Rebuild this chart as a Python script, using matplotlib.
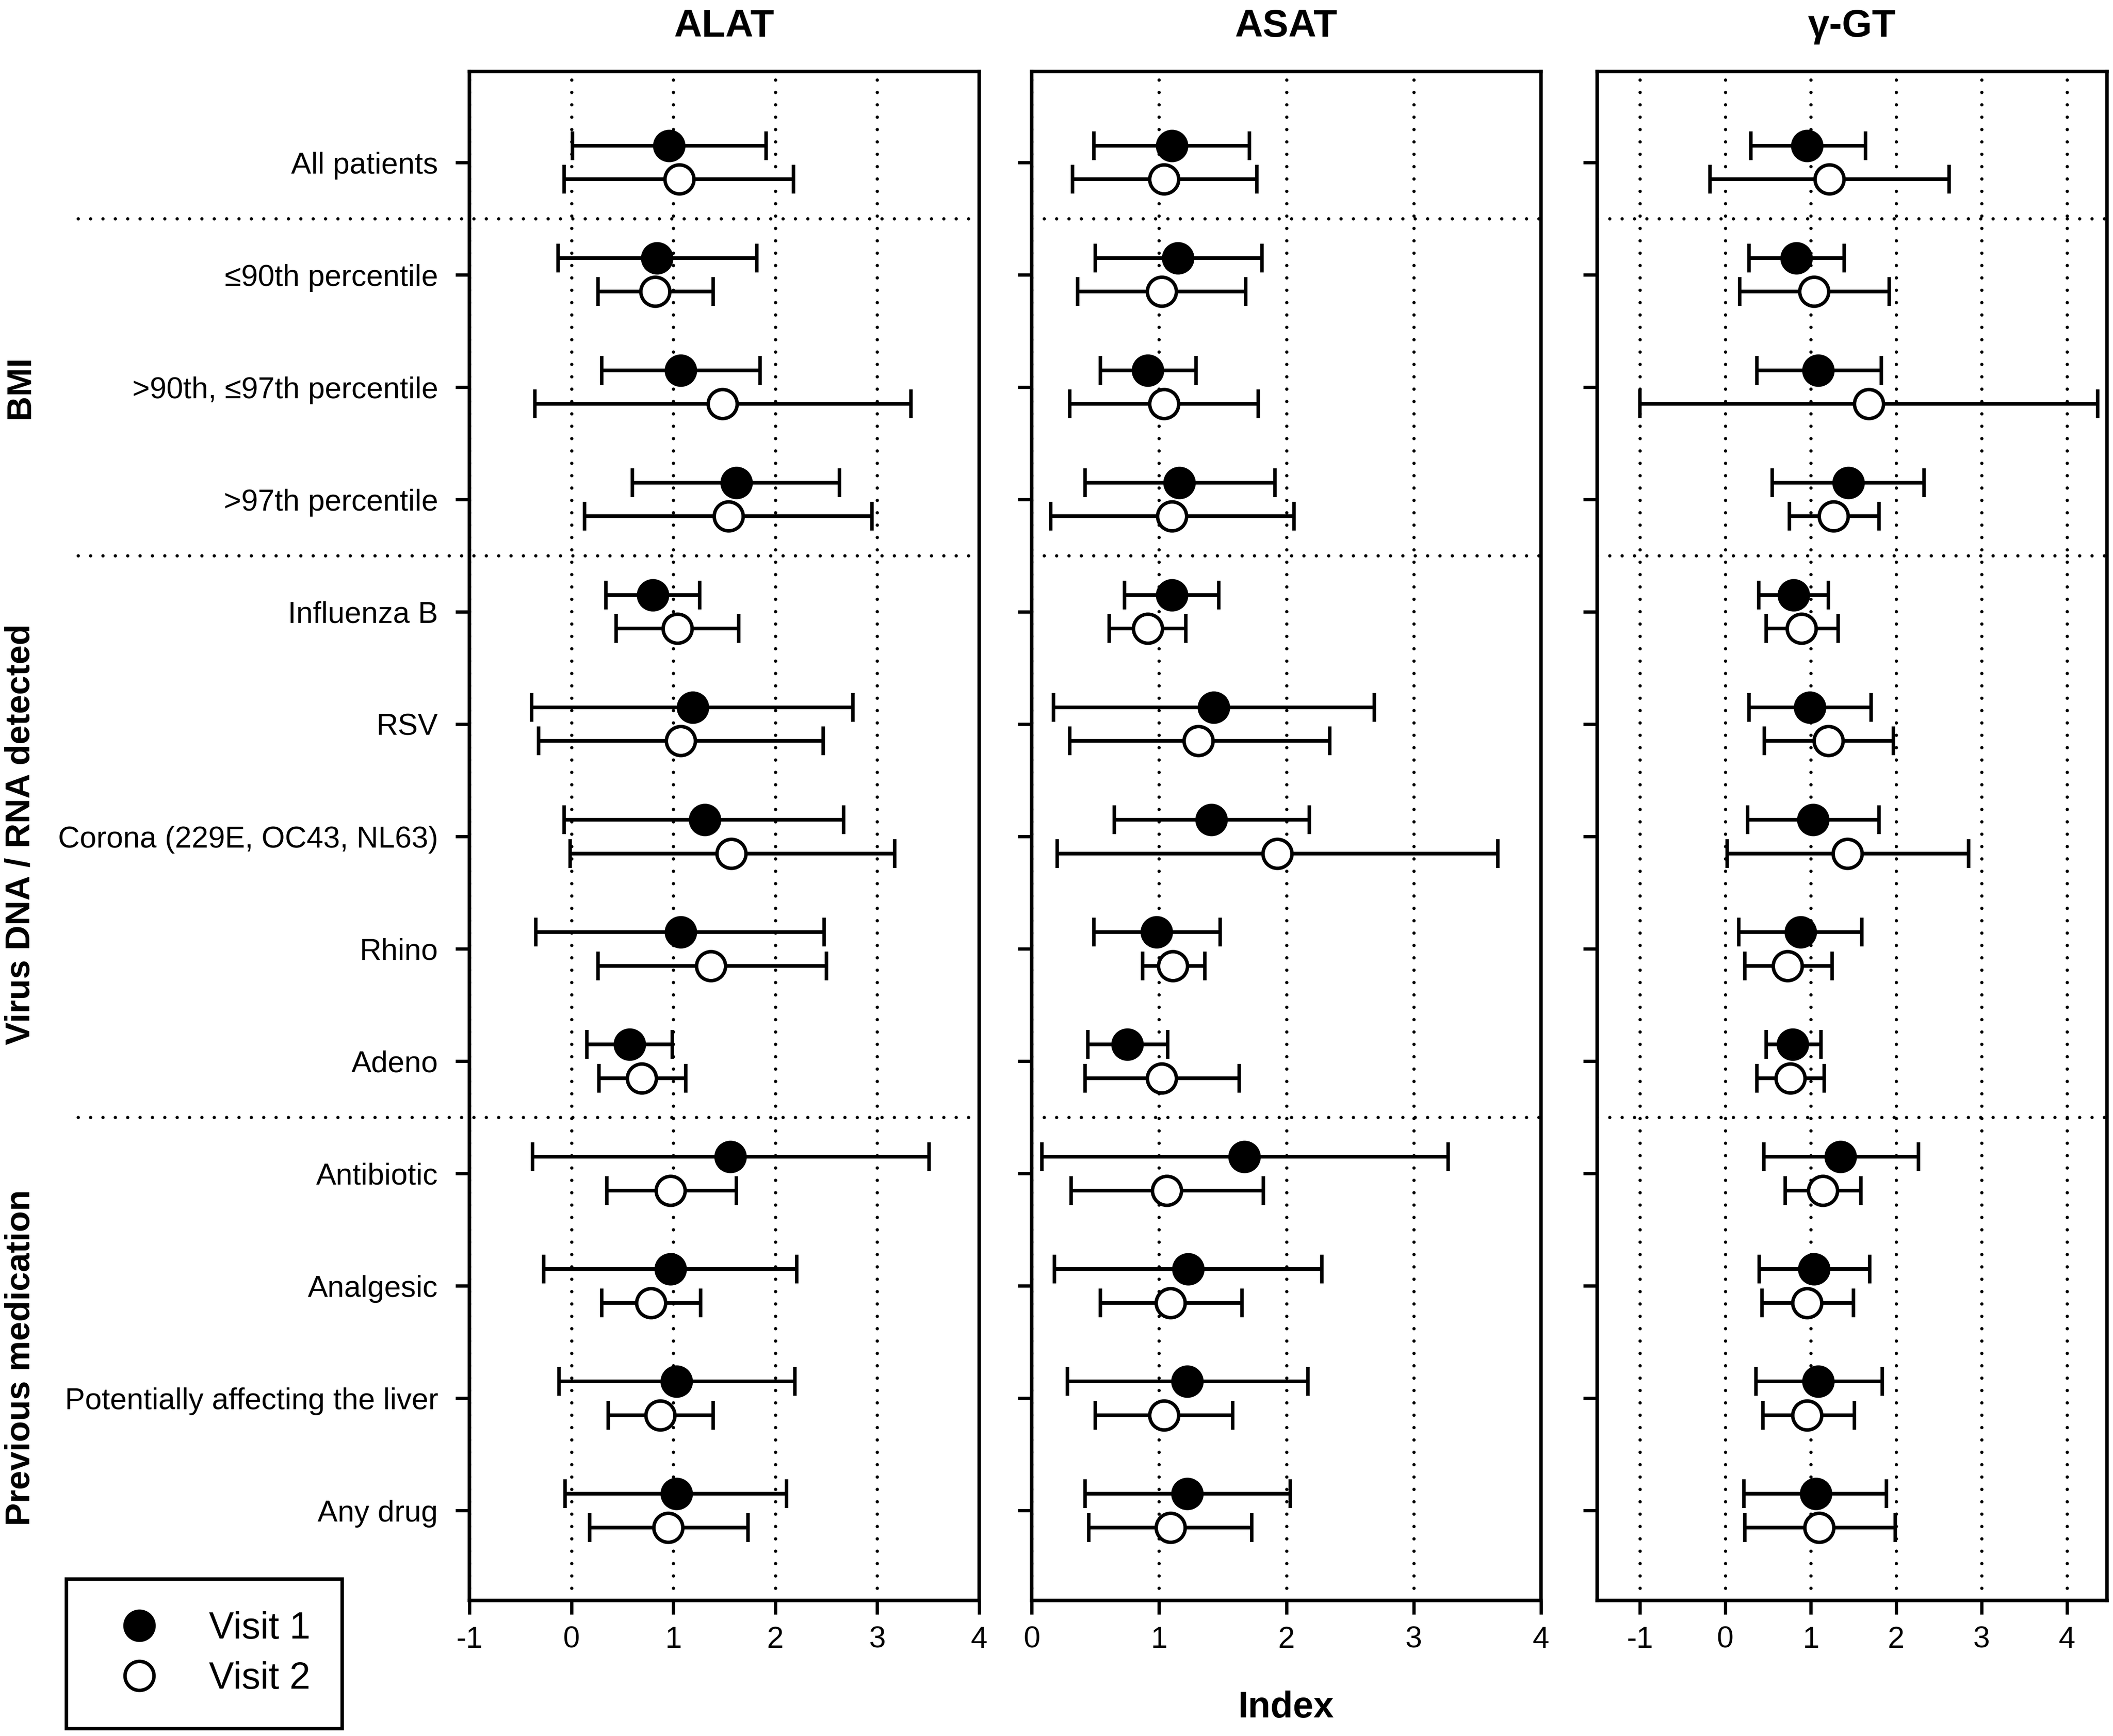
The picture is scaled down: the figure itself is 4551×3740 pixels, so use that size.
import matplotlib
matplotlib.use("Agg")
import matplotlib.pyplot as plt
import matplotlib.transforms as mtransforms
from matplotlib import font_manager
from matplotlib.lines import Line2D
import numpy as np

# rows, top to bottom
rows = ['All patients', '\u226490th percentile', '>90th, \u226497th percentile',
        '>97th percentile', 'Influenza B', 'RSV', 'Corona (229E, OC43, NL63)',
        'Rhino', 'Adeno', 'Antibiotic', 'Analgesic',
        'Potentially affecting the liver', 'Any drug']
groups = ['BMI', 'Virus DNA / RNA detected', 'Previous medication']
group_centre = [2, 5.98, 10.64]
separators = [0.5, 3.5, 8.5]

# ALAT
alat_v1_mean = [0.96, 0.84, 1.07, 1.62, 0.80, 1.19, 1.31, 1.07, 0.57, 1.56, 0.97, 1.03, 1.03]
alat_v1_lo = [0.01, -0.13, 0.30, 0.60, 0.34, -0.39, -0.07, -0.35, 0.15, -0.38, -0.27, -0.12, -0.06]
alat_v1_hi = [1.91, 1.82, 1.85, 2.63, 1.26, 2.76, 2.67, 2.48, 0.99, 3.51, 2.21, 2.19, 2.11]
alat_v2_mean = [1.06, 0.82, 1.48, 1.54, 1.04, 1.07, 1.57, 1.37, 0.69, 0.97, 0.78, 0.87, 0.95]
alat_v2_lo = [-0.07, 0.26, -0.36, 0.13, 0.44, -0.32, -0.01, 0.26, 0.27, 0.35, 0.30, 0.36, 0.18]
alat_v2_hi = [2.18, 1.39, 3.33, 2.95, 1.64, 2.47, 3.17, 2.50, 1.12, 1.62, 1.27, 1.39, 1.73]

# ASAT
asat_v1_mean = [1.10, 1.15, 0.91, 1.16, 1.10, 1.43, 1.41, 0.98, 0.75, 1.67, 1.23, 1.22, 1.22]
asat_v1_lo = [0.49, 0.50, 0.54, 0.42, 0.73, 0.17, 0.65, 0.49, 0.44, 0.08, 0.18, 0.28, 0.42]
asat_v1_hi = [1.71, 1.81, 1.29, 1.91, 1.47, 2.69, 2.18, 1.48, 1.07, 3.27, 2.28, 2.17, 2.03]
asat_v2_mean = [1.04, 1.02, 1.04, 1.10, 0.91, 1.31, 1.93, 1.11, 1.02, 1.06, 1.09, 1.04, 1.09]
asat_v2_lo = [0.32, 0.36, 0.30, 0.15, 0.61, 0.30, 0.20, 0.87, 0.42, 0.31, 0.54, 0.50, 0.45]
asat_v2_hi = [1.77, 1.68, 1.78, 2.06, 1.21, 2.34, 3.66, 1.36, 1.63, 1.82, 1.65, 1.58, 1.73]

# gamma-GT
ggt_v1_mean = [0.96, 0.83, 1.09, 1.44, 0.80, 0.99, 1.03, 0.88, 0.79, 1.35, 1.04, 1.09, 1.06]
ggt_v1_lo = [0.30, 0.28, 0.37, 0.55, 0.39, 0.28, 0.26, 0.16, 0.48, 0.45, 0.40, 0.36, 0.22]
ggt_v1_hi = [1.64, 1.39, 1.83, 2.33, 1.21, 1.71, 1.80, 1.60, 1.12, 2.26, 1.69, 1.84, 1.89]
ggt_v2_mean = [1.22, 1.04, 1.68, 1.27, 0.89, 1.21, 1.43, 0.73, 0.76, 1.14, 0.96, 0.96, 1.10]
ggt_v2_lo = [-0.18, 0.17, -1.00, 0.75, 0.48, 0.46, 0.02, 0.23, 0.37, 0.70, 0.43, 0.44, 0.23]
ggt_v2_hi = [2.62, 1.92, 4.36, 1.80, 1.32, 1.97, 2.85, 1.25, 1.16, 1.59, 1.50, 1.51, 1.99]

titles = ['ALAT', 'ASAT', '\u03b3-GT']
xlims = [(-1, 4), (0, 4), (-1.5, 4.47)]
xticks = [[-1, 0, 1, 2, 3, 4], [0, 1, 2, 3, 4], [-1, 0, 1, 2, 3, 4]]

panels = [
    (alat_v1_mean, alat_v1_lo, alat_v1_hi, alat_v2_mean, alat_v2_lo, alat_v2_hi),
    (asat_v1_mean, asat_v1_lo, asat_v1_hi, asat_v2_mean, asat_v2_lo, asat_v2_hi),
    (ggt_v1_mean, ggt_v1_lo, ggt_v1_hi, ggt_v2_mean, ggt_v2_lo, ggt_v2_hi),
]

names = {f.name for f in font_manager.fontManager.ttflist}
if 'Liberation Sans Narrow' in names:
    nfam = ['Liberation Sans Narrow', 'DejaVu Sans']
    fs = 18
else:
    nfam = ['Liberation Sans', 'DejaVu Sans']
    fs = 15.5
bfam = ['Liberation Sans', 'DejaVu Sans']

plt.rcParams['font.family'] = nfam
plt.rcParams['axes.unicode_minus'] = False

W, H = 4551, 3740
fig = plt.figure(figsize=(W / 300, H / 300), dpi=300)

lefts = [1011, 2222, 3440]
widths = [1098, 1097, 1098]
top, bottom = 154, 3448
# round dots, roughly 6.4pt apart
dotted = dict(color='black', linestyle=(0, (0.01, 3.75)), linewidth=1.7,
              dash_capstyle='round')

y = np.arange(len(rows))
off = 0.15
axes = []
for i in range(3):
    ax = fig.add_axes([lefts[i] / W, 1 - bottom / H, widths[i] / W, (bottom - top) / H])
    axes.append(ax)
    m1, l1, h1, m2, l2, h2 = [np.array(a) for a in panels[i]]
    common = dict(fmt='o', color='black', ecolor='black', elinewidth=1.9,
                  capsize=7.5, capthick=1.9, markersize=15, mew=1.8, zorder=3)
    ax.errorbar(m1, y - off, xerr=[m1 - l1, h1 - m1], mfc='black', mec='black', **common)
    ax.errorbar(m2, y + off, xerr=[m2 - l2, h2 - m2], mfc='white', mec='black', **common)

    ax.set_xlim(*xlims[i])
    ax.set_ylim(12.8, -0.81)
    ax.set_xticks(xticks[i])
    ax.set_xticklabels([str(t) for t in xticks[i]])
    ax.set_yticks(y)
    if i == 0:
        ax.set_yticklabels(rows)
    else:
        ax.set_yticklabels([])
    ax.tick_params(axis='both', direction='out', length=7.2, width=1.7,
                   labelsize=fs, color='black')
    ax.tick_params(axis='x', pad=6)
    ax.tick_params(axis='y', pad=9)
    for s in ax.spines.values():
        s.set_linewidth(1.8)
    ax.grid(axis='x', zorder=1, **dotted)
    ax.set_axisbelow(True)
    for s in separators:
        if i == 0:
            ax.axhline(s, xmin=(168 - lefts[0]) / widths[0], xmax=1,
                       clip_on=False, zorder=1, **dotted)
        else:
            ax.axhline(s, zorder=1, **dotted)
    ax.set_title(titles[i], family=bfam, fontweight='bold', fontsize=20, pad=18)

axes[1].set_xlabel('Index', family=bfam, fontweight='bold', fontsize=19, labelpad=19)

trans = mtransforms.blended_transform_factory(fig.transFigure, axes[0].transData)
for g, c in zip(groups, group_centre):
    axes[0].text(44 / W, c, g, transform=trans, rotation=90, ha='center', va='center',
                 fontweight='bold', fontsize=17.8, clip_on=False)

handles = [
    Line2D([], [], linestyle='none', marker='o', markersize=15, mfc='black', mec='black', mew=1.8),
    Line2D([], [], linestyle='none', marker='o', markersize=15, mfc='white', mec='black', mew=1.8),
]
leg = fig.legend(handles, ['Visit 1', 'Visit 2'], loc='center',
                 bbox_to_anchor=(440 / W, 1 - 3563 / H), fontsize=fs * 1.25,
                 frameon=True, fancybox=False, edgecolor='black', framealpha=1,
                 borderpad=0.85, labelspacing=0.4, handlelength=2.2, handletextpad=0.75)
leg.get_frame().set_linewidth(1.8)

fig.savefig('out.png', dpi=300)
